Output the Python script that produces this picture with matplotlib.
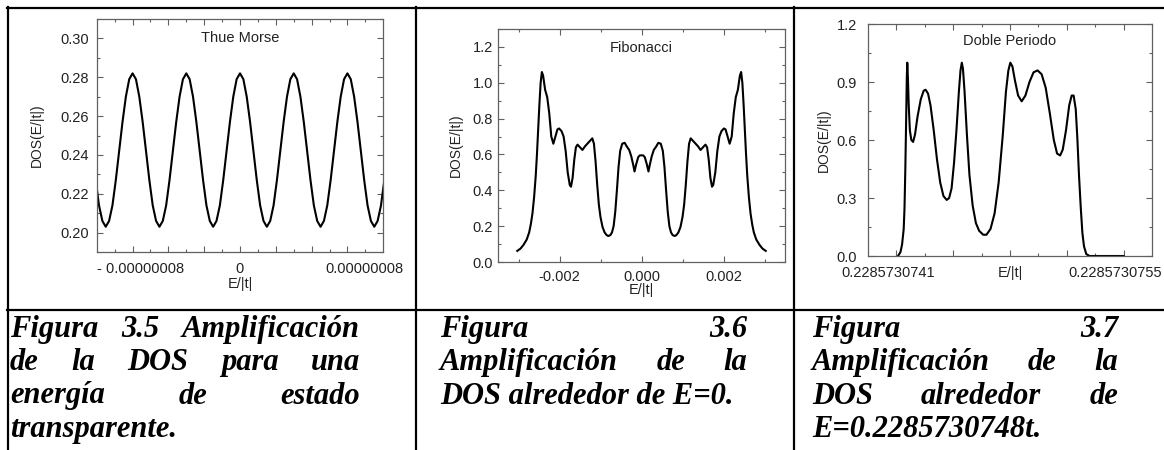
import numpy as np
import matplotlib
matplotlib.use('Agg')
import matplotlib.pyplot as plt
from matplotlib.lines import Line2D
from matplotlib.ticker import MultipleLocator, FixedLocator, FixedFormatter, FormatStrFormatter, NullFormatter

plt.rcParams['font.family'] = ['Liberation Sans', 'DejaVu Sans']

W, H = 1164, 450

# Thue Morse: DOS read every 2.5e-9 from -107.5e-9 to 107.5e-9
tm_x = np.arange(-107.5, 107.6, 2.5)  # units of 1e-9
tm_dos = [0.227, 0.214, 0.206,
          0.203, 0.206, 0.214, 0.227, 0.242, 0.257, 0.270, 0.279, 0.282, 0.279, 0.270, 0.257, 0.242, 0.227, 0.214, 0.206,
          0.203, 0.206, 0.214, 0.227, 0.242, 0.257, 0.270, 0.279, 0.282, 0.279, 0.270, 0.257, 0.242, 0.227, 0.214, 0.206,
          0.203, 0.206, 0.214, 0.227, 0.242, 0.257, 0.270, 0.279, 0.282, 0.279, 0.270, 0.257, 0.242, 0.227, 0.214, 0.206,
          0.203, 0.206, 0.214, 0.227, 0.242, 0.257, 0.270, 0.279, 0.282, 0.279, 0.270, 0.257, 0.242, 0.227, 0.214, 0.206,
          0.203, 0.206, 0.214, 0.227, 0.242, 0.257, 0.270, 0.279, 0.282, 0.279, 0.270, 0.257, 0.242, 0.227, 0.214, 0.206,
          0.203, 0.206, 0.214, 0.227]
tm_xticks = [-80, -160 / 3, -80 / 3, 0, 80 / 3, 160 / 3, 80]
tm_xlabels = ['- 0.00000008', '0', '0.00000008']

# Fibonacci (x in units of 1e-3)
fib_x = [-3.03, -2.95, -2.88, -2.80, -2.74, -2.70, -2.66, -2.62, -2.58, -2.55, -2.52, -2.49, -2.46, -2.43,
         -2.40, -2.35, -2.30, -2.25, -2.20, -2.15, -2.10, -2.05, -2.01, -1.95, -1.90, -1.85, -1.80, -1.75,
         -1.72, -1.68, -1.64, -1.60, -1.56, -1.50, -1.44, -1.38, -1.32, -1.26, -1.20, -1.16, -1.12, -1.08,
         -1.04, -1.00, -0.95, -0.90, -0.85, -0.81, -0.76, -0.72, -0.68, -0.64, -0.60, -0.56, -0.52, -0.47,
         -0.41, -0.36, -0.30, -0.25, -0.20, -0.17, -0.13, -0.08, -0.04, 0.00,
         0.04, 0.08, 0.13, 0.17, 0.20, 0.25, 0.30, 0.36, 0.41, 0.47, 0.52, 0.56, 0.60, 0.64, 0.68, 0.72,
         0.76, 0.81, 0.85, 0.90, 0.95, 1.00, 1.04, 1.08, 1.12, 1.16, 1.20, 1.26, 1.32, 1.38, 1.44, 1.50,
         1.56, 1.60, 1.64, 1.68, 1.72, 1.75, 1.80, 1.85, 1.90, 1.95, 2.01, 2.05, 2.10, 2.15, 2.20, 2.25,
         2.30, 2.35, 2.40, 2.43, 2.46, 2.49, 2.52, 2.55, 2.58, 2.62, 2.66, 2.70, 2.74, 2.80, 2.88, 2.95, 3.03]
fib_dos = [0.062, 0.075, 0.095, 0.125, 0.165, 0.21, 0.27, 0.36, 0.48, 0.60, 0.74, 0.88, 1.00, 1.06,
           1.04, 0.96, 0.92, 0.83, 0.70, 0.66, 0.70, 0.74, 0.745, 0.73, 0.70, 0.62, 0.50, 0.43,
           0.42, 0.47, 0.57, 0.64, 0.655, 0.64, 0.625, 0.645, 0.66, 0.675, 0.69, 0.66, 0.56, 0.43,
           0.32, 0.25, 0.195, 0.165, 0.15, 0.145, 0.15, 0.165, 0.20, 0.28, 0.40, 0.53, 0.62, 0.66,
           0.665, 0.645, 0.625, 0.59, 0.54, 0.505, 0.545, 0.585, 0.595, 0.595,
           0.595, 0.585, 0.545, 0.505, 0.54, 0.59, 0.625, 0.645, 0.665, 0.66, 0.62, 0.53, 0.40, 0.28, 0.20, 0.165,
           0.15, 0.145, 0.15, 0.165, 0.195, 0.25, 0.32, 0.43, 0.56, 0.66, 0.69, 0.675, 0.66, 0.645, 0.625, 0.64,
           0.655, 0.64, 0.57, 0.47, 0.42, 0.43, 0.50, 0.62, 0.70, 0.73, 0.745, 0.74, 0.70, 0.66, 0.70, 0.83,
           0.92, 0.96, 1.04, 1.06, 1.00, 0.88, 0.74, 0.60, 0.48, 0.36, 0.27, 0.21, 0.165, 0.125, 0.095, 0.075, 0.062]
fib_xticks = [-2, 0, 2]
fib_xlabels = ['-0.002', '0.000', '0.002']

# Doble Periodo (x in units of 1e-10 around E = 0.2285730748)
dp_x = [-6.90, -6.75, -6.65, -6.55, -6.50, -6.45, -6.40, -6.36, -6.33, -6.29,
        -6.24, -6.17, -6.08, -5.97, -5.85, -5.70, -5.50, -5.32, -5.20, -5.05,
        -4.90, -4.70, -4.50, -4.30, -4.10, -3.90, -3.75, -3.60, -3.45, -3.30,
        -3.15, -3.05, -2.97, -2.90, -2.80, -2.65, -2.50, -2.30, -2.10, -1.90,
        -1.65, -1.45, -1.20, -0.95, -0.70, -0.45, -0.25, -0.10, 0.02, 0.15,
        0.30, 0.50, 0.72, 0.95, 1.20, 1.45, 1.70, 1.95, 2.20, 2.45,
        2.70, 2.90, 3.09, 3.25, 3.45, 3.65, 3.80, 3.92, 4.05, 4.15,
        4.25, 4.36, 4.46, 4.56, 4.70, 4.90, 6.00, 7.00]
dp_dos = [0.00, 0.02, 0.06, 0.14, 0.25, 0.45, 0.70, 0.92, 1.00, 0.92,
          0.78, 0.65, 0.60, 0.59, 0.63, 0.72, 0.81, 0.855, 0.86, 0.84,
          0.78, 0.65, 0.50, 0.38, 0.31, 0.29, 0.30, 0.35, 0.48, 0.65,
          0.85, 0.96, 1.00, 0.97, 0.85, 0.62, 0.42, 0.26, 0.17, 0.13,
          0.11, 0.11, 0.14, 0.22, 0.38, 0.62, 0.85, 0.96, 1.00, 0.98,
          0.91, 0.83, 0.80, 0.83, 0.90, 0.95, 0.96, 0.94, 0.87, 0.74,
          0.60, 0.53, 0.52, 0.55, 0.65, 0.78, 0.83, 0.83, 0.76, 0.61,
          0.42, 0.25, 0.12, 0.05, 0.01, 0.00, 0.00, 0.00]
dp_xticks = [-7, -3.5, 0, 3.5, 7]
dp_xlabels = ['0.2285730741', '0.2285730755']

captions = [
    ['Figura 3.5 Amplificación', 'de la DOS para una', 'energía de estado', 'transparente.'],
    ['Figura 3.6', 'Amplificación de la', 'DOS alrededor de E=0.'],
    ['Figura 3.7', 'Amplificación de la', 'DOS alrededor de', 'E=0.2285730748t.'],
]

fig = plt.figure(figsize=(W / 100, H / 100), dpi=100)
FS = 10.5
TXT = '#222222'


def px_rect(l, t, r, b):
    return [l / W, 1 - b / H, (r - l) / W, (b - t) / H]


def style(ax, xpad, ypad):
    for s in ax.spines.values():
        s.set_color('#606060')
        s.set_linewidth(0.9)
    ax.tick_params(which='both', direction='in', top=True, right=True,
                   color='#606060', labelcolor=TXT, labelsize=FS, width=0.8)
    ax.tick_params(which='major', length=4)
    ax.tick_params(which='minor', length=2.5)
    ax.tick_params(axis='x', pad=xpad)
    ax.tick_params(axis='y', pad=ypad)


def labels(ax, title, ty, xl_y, yl_x):
    ax.text(0.5, ty, title, transform=ax.transAxes, ha='center', va='center', fontsize=FS, color=TXT)
    ax.text(0.5, xl_y, 'E/|t|', transform=ax.transAxes, ha='center', va='center', fontsize=FS, color=TXT)
    ax.text(yl_x, 0.5, 'DOS(E/|t|)', transform=ax.transAxes, ha='center', va='center',
            rotation=90, fontsize=10, color=TXT)


# Thue Morse
ax1 = fig.add_axes(px_rect(97, 19, 383, 252))
ax1.plot(tm_x, tm_dos, color='black', lw=1.5)
ax1.set_xlim(-106.5, 106.5)
ax1.set_ylim(0.19, 0.31)
ax1.xaxis.set_major_locator(FixedLocator(tm_xticks))
ax1.xaxis.set_major_formatter(NullFormatter())
ax1.xaxis.set_minor_locator(MultipleLocator(40 / 3))
ax1.yaxis.set_major_locator(MultipleLocator(0.02))
ax1.yaxis.set_minor_locator(MultipleLocator(0.01))
ax1.yaxis.set_major_formatter(FormatStrFormatter('%.2f'))
style(ax1, 5, 5.8)
# the source places these labels by hand, not centred on the ticks
ax1.text(0.0, -0.073, tm_xlabels[0], transform=ax1.transAxes, ha='left', va='center', fontsize=FS, color=TXT)
ax1.text(0.5, -0.073, tm_xlabels[1], transform=ax1.transAxes, ha='center', va='center', fontsize=FS, color=TXT)
ax1.text(0.80, -0.073, tm_xlabels[2], transform=ax1.transAxes, ha='left', va='center', fontsize=FS, color=TXT)
labels(ax1, 'Thue Morse', 0.918, -0.137, -0.21)

# Fibonacci
ax2 = fig.add_axes(px_rect(498, 29, 785, 262))
ax2.plot(fib_x, fib_dos, color='black', lw=1.5)
ax2.set_xlim(-3.5, 3.5)
ax2.set_ylim(0, 1.3)
ax2.xaxis.set_major_locator(FixedLocator(fib_xticks))
ax2.xaxis.set_major_formatter(FixedFormatter(fib_xlabels))
ax2.xaxis.set_minor_locator(FixedLocator([-3, -1, 1, 3]))
ax2.yaxis.set_major_locator(MultipleLocator(0.2))
ax2.yaxis.set_minor_locator(MultipleLocator(0.1))
ax2.yaxis.set_major_formatter(FormatStrFormatter('%.1f'))
style(ax2, 6, 3.6)
labels(ax2, 'Fibonacci', 0.918, -0.12, -0.146)

# Doble Periodo
ax3 = fig.add_axes(px_rect(868, 24, 1152, 256))
ax3.plot(dp_x, dp_dos, color='black', lw=1.5)
ax3.set_xlim(-8.75, 8.75)
ax3.set_ylim(0, 1.2)
ax3.xaxis.set_major_locator(FixedLocator(dp_xticks))
ax3.xaxis.set_major_formatter(NullFormatter())
ax3.xaxis.set_minor_locator(FixedLocator([-5.25, -1.75, 1.75, 5.25]))
ax3.yaxis.set_major_locator(MultipleLocator(0.3))
ax3.yaxis.set_minor_locator(MultipleLocator(0.15))
ax3.yaxis.set_major_formatter(FormatStrFormatter('%.1f'))
style(ax3, 9, 8)
for tx, tl in zip([dp_xticks[0], dp_xticks[-1]], dp_xlabels):
    ax3.text(tx - 0.5, -0.072, tl, transform=ax3.get_xaxis_transform(), ha='center', va='center',
             fontsize=FS, color=TXT)
labels(ax3, 'Doble Periodo', 0.927, -0.072, -0.155)

# table rules
def rule(x0, y0, x1, y1):
    fig.add_artist(Line2D([x0 / W, x1 / W], [1 - y0 / H, 1 - y1 / H], color='black', lw=1.6))

rule(7, 7.5, W, 7.5)
rule(7.5, 7, 7.5, H)
rule(416, 7, 416, H)
rule(794, 7, 794, H)
rule(7, 309.5, W, 309.5)

# justified captions
cap_font = dict(family=['Liberation Serif', 'DejaVu Serif'], weight='bold', style='italic', fontsize=22, color='black')
renderer = fig.canvas.get_renderer()
columns = [(10, 360), (440, 747), (812, 1118)]
baselines = [337, 370, 403.5, 437]
for lines, (left, right) in zip(captions, columns):
    for i, line in enumerate(lines):
        y = 1 - baselines[i] / H
        words = line.split()
        if i == len(lines) - 1:
            fig.text(left / W, y, line, ha='left', va='baseline', **cap_font)
            continue
        texts = [fig.text(0, y, w, ha='left', va='baseline', **cap_font) for w in words]
        widths = [t.get_window_extent(renderer).width for t in texts]
        gap = (right - left - sum(widths)) / (len(words) - 1)
        x = left
        for t, w in zip(texts, widths):
            t.set_x(x / W)
            x += w + gap

fig.savefig('out.png', dpi=100)
